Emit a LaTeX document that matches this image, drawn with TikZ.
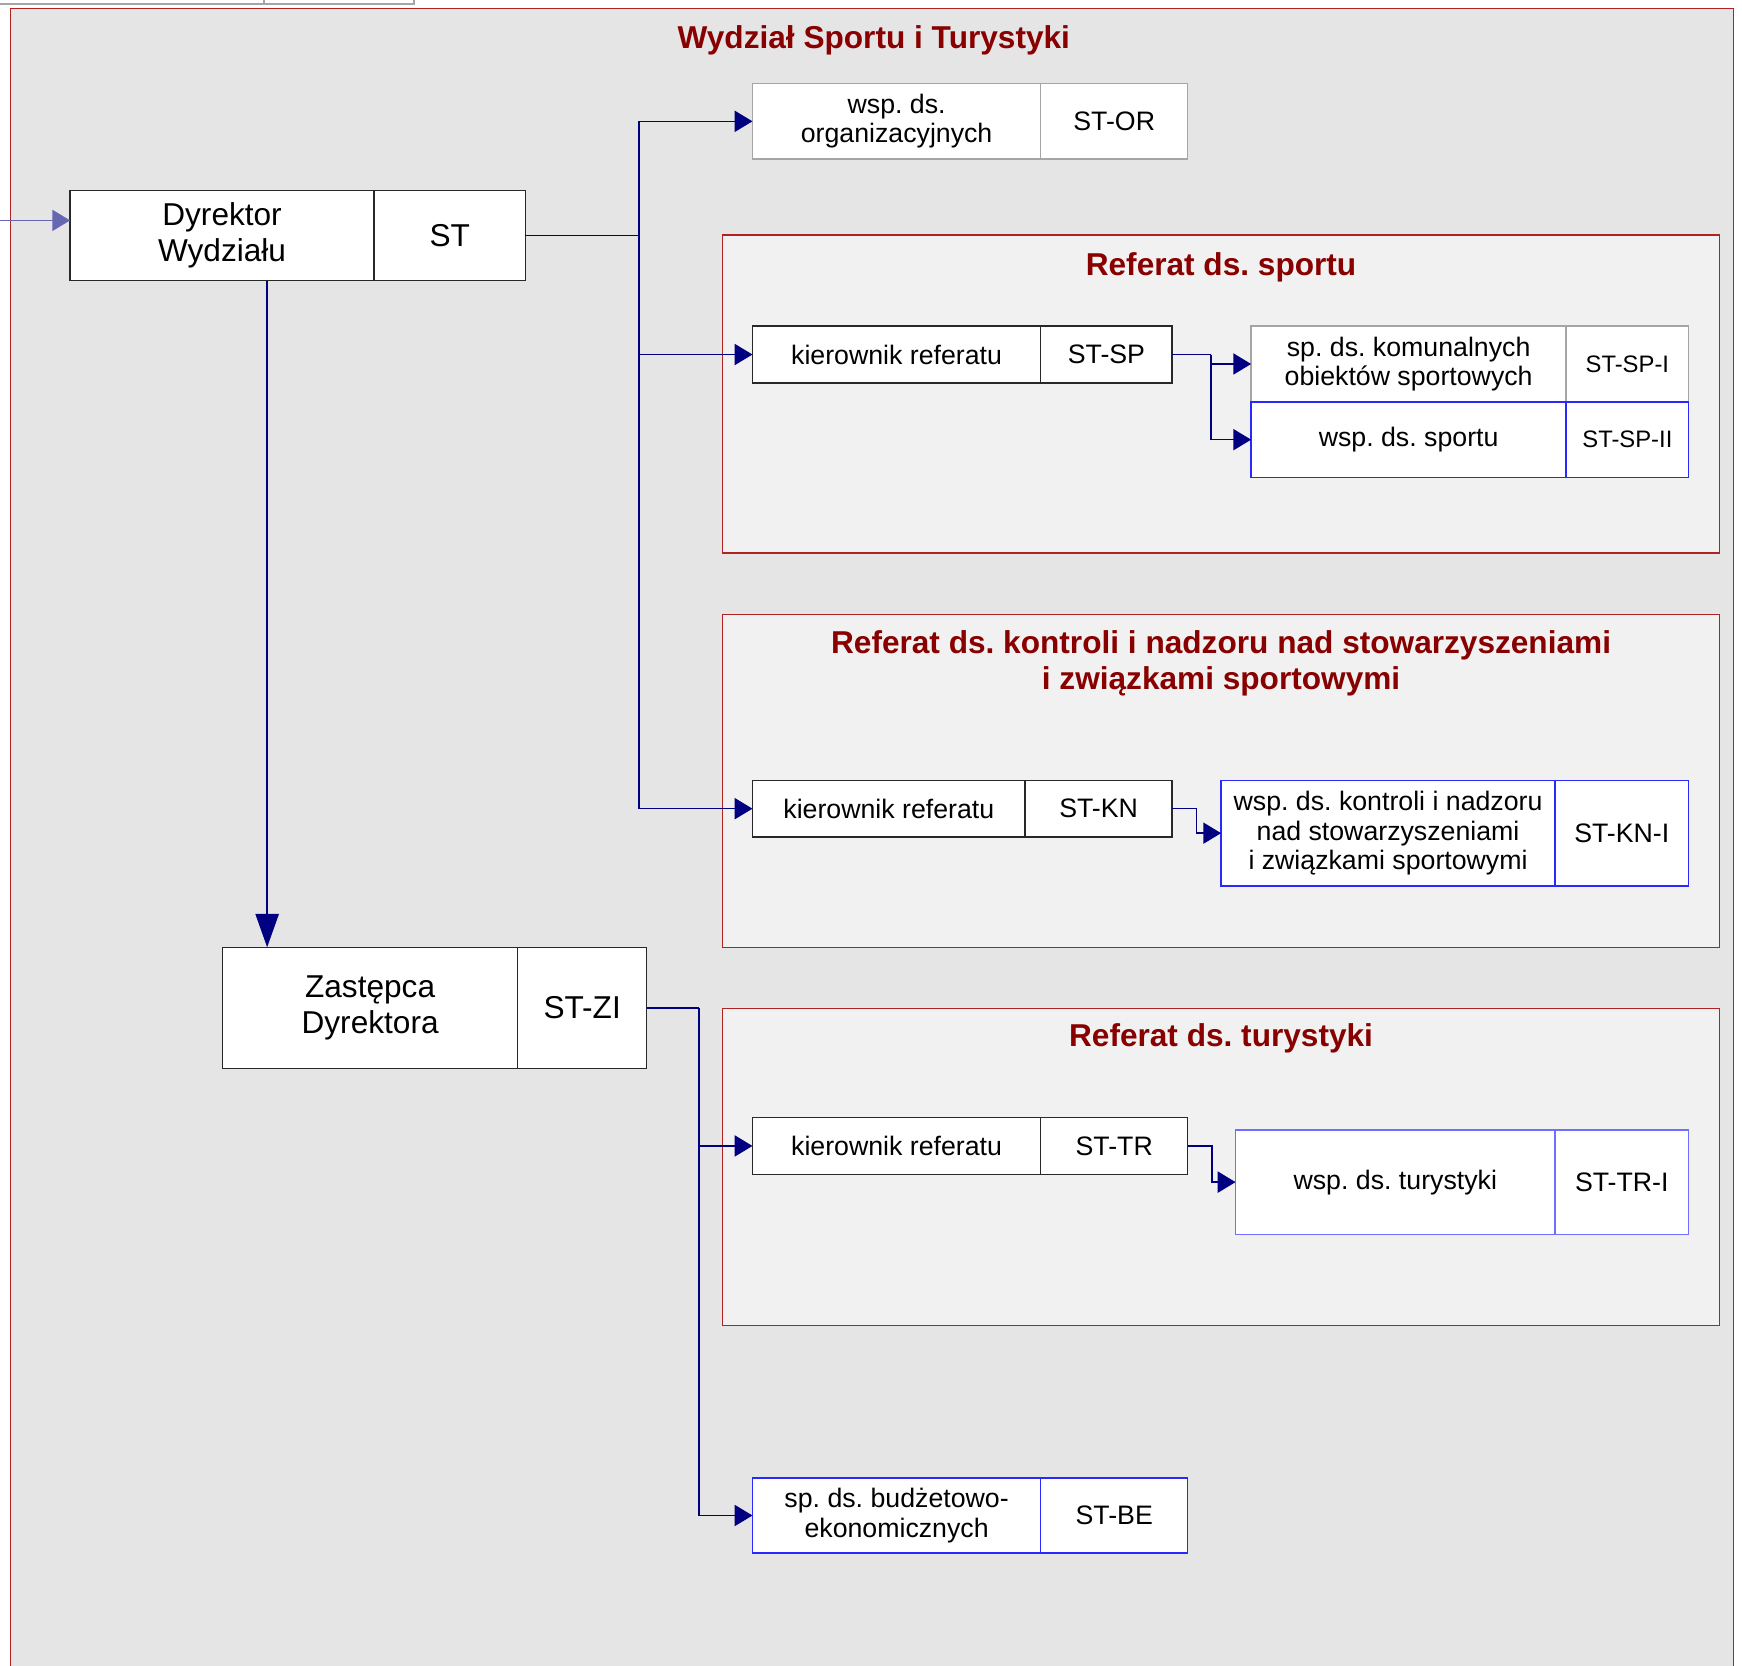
\documentclass[tikz,border=0pt]{standalone}
\usepackage{fontspec}
\setmainfont{Liberation Sans}
\usetikzlibrary{positioning,arrows.meta}
\frenchspacing
\definecolor{navy}{RGB}{0,0,128}
\definecolor{navylight}{RGB}{102,102,178}
\definecolor{framered}{RGB}{175,35,35}
\definecolor{titlered}{RGB}{136,0,0}
\definecolor{framegray}{RGB}{229,229,229}
\definecolor{groupgray}{RGB}{241,241,241}
\definecolor{boxgray}{RGB}{165,165,165}
\definecolor{boxdark}{RGB}{40,40,40}
\definecolor{boxblue}{RGB}{40,40,255}
\definecolor{boxlblue}{RGB}{110,110,255}
\newcommand{\txtbox}{\fontsize{24}{26.5}\selectfont}
\newcommand{\txtbig}{\fontsize{28.4}{32}\selectfont}
\newcommand{\txtcode}{\fontsize{21.4}{24}\selectfont}
\newcommand{\txthead}{\fontsize{28.4}{33}\selectfont\bfseries}
\begin{document}
\begin{tikzpicture}[x=1pt,y=-1pt,
  unit/.style={draw=#1,fill=white,line width=1.3pt,inner sep=0pt,outer sep=0pt,align=center,anchor=north west,font=\txtbox},
  conn/.style={navy,line width=1.3pt,-{Triangle[length=16pt,width=19pt]}},
  downconn/.style={conn,-{Triangle[length=30pt,width=21pt]}},
  inconn/.style={navylight,line width=1.3pt,-{Triangle[length=16pt,width=19pt]}},
  group/.style={draw=framered,fill=groupgray,line width=1.3pt},
  head/.style={text=titlered,font=\txthead,align=center}]
\path[use as bounding box,fill=white] (0,0) rectangle (1565,1496);
\draw[boxgray,fill=white,line width=1.3pt] (-5,-20) rectangle (237,3.6) (237,-20) rectangle (372,3.6);
\draw[framered,fill=framegray,line width=1.3pt] (9.5,7.5) rectangle (1557.5,1520);
\foreach \t/\b in {211/497,552/851,906/1191}
	\draw[group] (649,\t) rectangle (1545,\b);
\node[head] (hst) at (785,36) {Wydział Sportu i Turystyki};
\node[head] (hsp) at (1097,240) {Referat ds. sportu};
\node[head] (hkn) at (1097,596) {Referat ds. kontroli i nadzoru nad stowarzyszeniami\\i związkami sportowymi};
\node[head] (htr) at (1097,933) {Referat ds. turystyki};
\node[unit=boxdark,minimum width=273,minimum height=81,font=\txtbig] (dyr) at (63,171) {Dyrektor\\Wydziału};
\node[unit=boxdark,minimum width=136,minimum height=81,font=\txtbig,right=0pt of dyr] (dyrc) {ST};
\node[unit=boxgray,minimum width=259,minimum height=68] (org) at (676,75) {wsp. ds.\\organizacyjnych};
\node[unit=boxgray,minimum width=132,minimum height=68,right=0pt of org] (orgc) {ST-OR};
\node[unit=boxdark,minimum width=259,minimum height=51] (sp) at (676,293) {kierownik referatu};
\node[unit=boxdark,minimum width=118,minimum height=51,right=0pt of sp] (spc) {ST-SP};
\node[unit=boxgray,minimum width=283,minimum height=68] (spi) at (1124,293) {sp. ds. komunalnych\\obiektów sportowych};
\node[unit=boxgray,minimum width=110,minimum height=68,font=\txtcode,right=0pt of spi] (spic) {ST-SP-I};
\node[unit=boxblue,minimum width=283,minimum height=68] (spii) at (1124,361) {wsp. ds. sportu};
\node[unit=boxblue,minimum width=110,minimum height=68,font=\txtcode,right=0pt of spii] (spiic) {ST-SP-II};
\node[unit=boxdark,minimum width=245,minimum height=51] (kn) at (676,701) {kierownik referatu};
\node[unit=boxdark,minimum width=132,minimum height=51,right=0pt of kn] (knc) {ST-KN};
\node[unit=boxblue,minimum width=300,minimum height=95] (kni) at (1097,701) {wsp. ds. kontroli i nadzoru\\nad stowarzyszeniami\\i związkami sportowymi};
\node[unit=boxblue,minimum width=120,minimum height=95,right=0pt of kni] (knic) {ST-KN-I};
\node[unit=boxdark,minimum width=265,minimum height=109,font=\txtbig] (zast) at (200,851) {Zastępca\\Dyrektora};
\node[unit=boxdark,minimum width=116,minimum height=109,font=\txtbig,right=0pt of zast] (zastc) {ST-ZI};
\node[unit=boxdark,minimum width=259,minimum height=51] (tr) at (676,1004) {kierownik referatu};
\node[unit=boxdark,minimum width=132,minimum height=51,right=0pt of tr] (trc) {ST-TR};
\node[unit=boxlblue,minimum width=287,minimum height=94] (tri) at (1110,1015) {wsp. ds. turystyki};
\node[unit=boxlblue,minimum width=120,minimum height=94,right=0pt of tri] (tric) {ST-TR-I};
\node[unit=boxblue,minimum width=259,minimum height=67] (be) at (676,1328) {sp. ds. budżetowo-\\ekonomicznych};
\node[unit=boxblue,minimum width=132,minimum height=67,right=0pt of be] (bec) {ST-BE};
\coordinate (in) at (0,198);
\draw[inconn] (in) -- (in -| dyr.west);
\draw[downconn] ([xshift=40pt]zast.north west |- dyr.south) -- ([xshift=40pt]zast.north west);
\draw[navy,line width=1.3pt] (dyrc.east) -- ++(102,0) coordinate (bus);
\foreach \t in {org,sp,kn}
	\draw[conn] (bus) |- (\t.west);
\draw[navy,line width=1.3pt] (zastc.east) -- ++(47,0) coordinate (bus2);
\foreach \t in {tr,be}
	\draw[conn] (bus2) |- (\t.west);
\draw[navy,line width=1.3pt] (spc.east) -- ++(35,0) coordinate (bus3);
\foreach \t in {spi,spii}
	\draw[conn] (bus3) |- (\t.west);
\draw[conn] (knc.east) -- ++(22,0) |- (kni.west);
\draw[conn] (trc.east) -- ++(22,0) |- (tri.west);
\end{tikzpicture}
\end{document}
